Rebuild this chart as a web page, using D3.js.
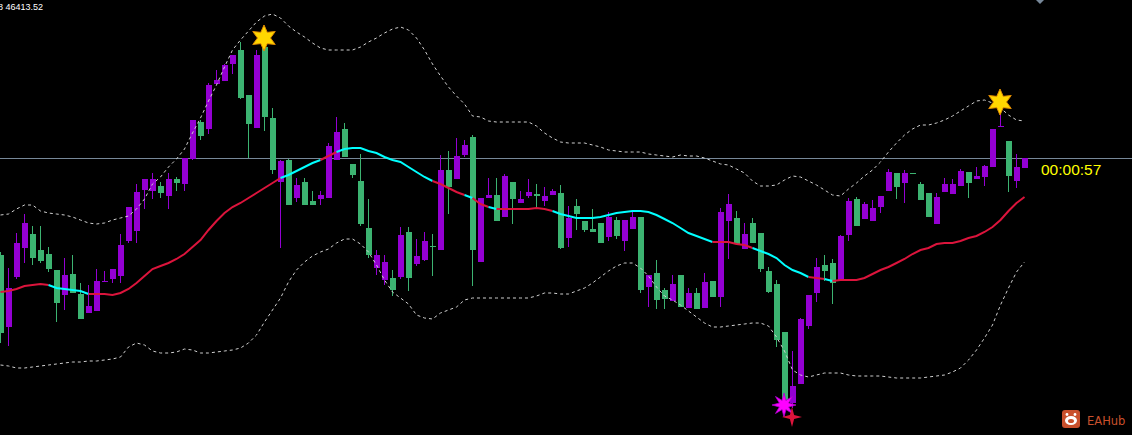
<!DOCTYPE html>
<html>
<head>
<meta charset="utf-8">
<script src="https://cdn.jsdelivr.net/npm/d3@7"></script>
<style>
  html, body { margin: 0; padding: 0; background: #000; overflow: hidden; }
  svg { display: block; }
</style>
</head>
<body>
<svg id="chart" width="1132" height="435"></svg>
<script>
// candles (bar 0 at the left edge)
var open = [
  46745,46673,46723,46752,46766,46750,46746,46730,46705,46726,
  46706,46687,46689,46718,46721,46724,46759,46769,46810,46809,
  46814,46804,46821,46816,46841,46878,46871,46916,46919,46936,
  46950,46905,46872,46953,46882,46818,46840,46802,46818,46799,
  46801,46802,46840,46871,46836,46819,46772,46732,46720,46722,
  46723,46768,46736,46740,46754,46750,46830,46821,46845,46863,
  46738,46802,46805,46783,46818,46797,46804,46806,46799,46805,
  46807,46762,46794,46779,46771,46777,46763,46780,46759,46771,
  46783,46713,46727,46710,46699,46725,46692,46707,46692,46719,
  46703,46779,46782,46751,46777,46767,46729,46716,46668,46597,
  46616,46674,46707,46735,46737,46720,46765,46801,46781,46779,
  46793,46809,46827,46817,46827,46816,46807,46776,46808,46806,
  46814,46828,46821,46823,46833,46873,46859,46819,46832
];
var high = [
  46748,46732,46767,46786,46774,46774,46753,46730,46742,46745,
  46717,46715,46731,46729,46731,46766,46793,46816,46821,46827,
  46818,46827,46823,46842,46880,46880,46917,46930,46936,46945,
  46958,46905,46950,46960,46892,46840,46841,46822,46822,46809,
  46809,46857,46883,46877,46836,46846,46801,46750,46745,46730,
  46773,46773,46761,46768,46766,46845,46849,46862,46860,46865,
  46802,46822,46822,46826,46818,46809,46821,46816,46813,46811,
  46815,46794,46801,46779,46791,46777,46788,46783,46780,46788,
  46783,46725,46740,46712,46725,46725,46712,46712,46727,46719,
  46792,46806,46789,46777,46782,46767,46733,46720,46668,46649,
  46682,46705,46742,46745,46741,46765,46802,46803,46798,46800,
  46804,46831,46827,46830,46827,46818,46807,46807,46822,46821,
  46831,46828,46833,46835,46871,46897,46859,46846,46842
];
var low = [
  46657,46654,46721,46737,46735,46737,46728,46678,46690,46707,
  46681,46687,46689,46718,46717,46717,46757,46757,46791,46801,
  46802,46791,46809,46809,46840,46860,46866,46916,46919,46926,
  46901,46842,46872,46869,46826,46752,46795,46798,46795,46795,
  46795,46802,46840,46843,46822,46774,46742,46725,46715,46704,
  46721,46709,46734,46739,46724,46750,46786,46821,46843,46714,
  46738,46802,46779,46783,46776,46797,46802,46793,46794,46805,
  46751,46753,46770,46768,46768,46757,46759,46761,46749,46771,
  46707,46693,46691,46691,46699,46693,46692,46691,46692,46703,
  46693,46741,46756,46751,46757,46728,46707,46653,46595,46592,
  46616,46671,46698,46719,46696,46720,46759,46774,46781,46779,
  46787,46809,46801,46797,46826,46800,46783,46776,46808,46806,
  46814,46802,46821,46814,46833,46873,46808,46812,46832
];
var close = [
  46667,46712,46757,46777,46742,46739,46731,46697,46725,46707,
  46681,46694,46719,46719,46731,46755,46793,46808,46821,46821,
  46807,46821,46817,46842,46880,46864,46915,46920,46935,46945,
  46902,46876,46945,46883,46830,46839,46795,46815,46795,46795,
  46805,46854,46868,46843,46825,46776,46745,46745,46738,46710,
  46765,46722,46744,46759,46753,46830,46813,46844,46855,46750,
  46802,46805,46779,46824,46801,46801,46808,46804,46804,46809,
  46752,46782,46786,46770,46768,46757,46783,46764,46780,46783,
  46710,46725,46700,46701,46716,46693,46707,46691,46718,46703,
  46788,46796,46756,46766,46757,46731,46708,46660,46600,46614,
  46681,46705,46733,46729,46717,46764,46799,46774,46796,46792,
  46804,46828,46813,46827,46826,46800,46783,46803,46816,46816,
  46829,46817,46824,46834,46871,46874,46824,46833,46842
];

// moving average, and the bars where it is drawn cyan
var ma = [
  46708,46709,46711,46714,46715,46716,46715,46712,46711,46710,
  46709,46706,46706,46706,46705,46707,46711,46717,46724,46731,
  46734,46737,46741,46746,46753,46760,46770,46779,46787,46793,
  46797,46802,46807,46812,46817,46822,46825,46829,46833,46837,
  46840,46844,46848,46851,46852,46852,46849,46847,46843,46840,
  46838,46833,46828,46823,46819,46816,46812,46808,46805,46802,
  46796,46793,46791,46791,46791,46791,46791,46792,46791,46789,
  46786,46784,46782,46782,46782,46783,46785,46787,46788,46789,
  46789,46788,46785,46781,46777,46772,46767,46764,46761,46758,
  46758,46758,46756,46755,46752,46749,46746,46742,46735,46730,
  46727,46723,46722,46721,46719,46720,46720,46720,46722,46726,
  46730,46733,46737,46741,46746,46750,46752,46756,46757,46757,
  46759,46762,46764,46768,46773,46780,46789,46797,46803
];
var cyanBars = [[6, 10], [35, 39], [42, 53], [58, 58], [61, 61], [69, 88], [94, 100], [103, 103]];

// bands
var upperBand = [
  46785,46786,46791,46795,46795,46789,46787,46786,46785,46783,
  46780,46777,46776,46777,46780,46782,46784,46791,46801,46816,
  46823,46833,46841,46851,46867,46882,46899,46915,46933,46950,
  46960,46969,46978,46984,46986,46982,46974,46968,46963,46957,
  46952,46950,46950,46950,46950,46953,46958,46962,46967,46971,
  46973,46970,46962,46950,46936,46924,46913,46904,46896,46884,
  46883,46879,46878,46878,46878,46878,46878,46874,46867,46862,
  46858,46857,46857,46857,46855,46853,46850,46849,46848,46848,
  46848,46846,46845,46844,46843,46845,46844,46844,46842,46839,
  46836,46835,46831,46827,46819,46814,46814,46815,46820,46824,
  46823,46819,46815,46810,46805,46804,46811,46817,46824,46830,
  46838,46848,46857,46865,46871,46875,46875,46877,46880,46884,
  46889,46894,46899,46900,46897,46892,46885,46880,46879
];
var lowerBand = [
  46635,46634,46632,46632,46633,46634,46635,46636,46637,46638,
  46638,46639,46639,46640,46641,46643,46653,46657,46655,46649,
  46647,46647,46648,46651,46650,46647,46647,46648,46649,46650,
  46652,46657,46665,46678,46690,46702,46718,46730,46738,46744,
  46748,46751,46757,46761,46761,46756,46748,46735,46720,46708,
  46702,46696,46685,46682,46681,46687,46690,46693,46700,46702,
  46702,46702,46702,46702,46702,46702,46702,46704,46707,46707,
  46706,46706,46709,46712,46717,46723,46729,46734,46737,46737,
  46732,46724,46713,46704,46700,46695,46689,46683,46677,46673,
  46673,46674,46675,46676,46677,46677,46674,46663,46649,46630,
  46625,46623,46625,46627,46627,46627,46625,46624,46624,46624,
  46624,46623,46622,46622,46622,46622,46623,46624,46625,46628,
  46632,46640,46650,46662,46675,46695,46712,46728,46738
];

// arrows / signals
var topStars = [{ bar: 33, price: 46962 }, { bar: 125, price: 46898 }];
var bottomStars = [{ bar: 98, price: 46595 }];
var crossStars = [{ bar: 99, price: 46583 }];

var bidPrice = 46842;
var priceLabel = "8 46413.52";
var timerLabel = "00:00:57";

var bullColor = "#9400d3";
var bearColor = "#3cb371";

var svg = d3.select("#chart");
var width = 1132, height = 435;

svg.append("rect").attr("width", width).attr("height", height).attr("fill", "#000");

var x = d3.scaleLinear().domain([0, 128]).range([0, 1024]);
var y = d3.scaleLinear().domain([46565, 47000]).range([height, 0]);

var n = close.length;
var bars = d3.range(n).map(function (i) {
  return { i: i, o: open[i], h: high[i], l: low[i], c: close[i] };
});

// bid line
svg.append("line")
  .attr("x1", 0).attr("x2", width)
  .attr("y1", Math.round(y(bidPrice)) + 0.5).attr("y2", Math.round(y(bidPrice)) + 0.5)
  .attr("stroke", "#778899").attr("stroke-width", 1);

// candles
var candles = svg.append("g").attr("shape-rendering", "crispEdges");
candles.selectAll("rect.wick").data(bars).join("rect")
  .attr("class", "wick")
  .attr("x", function (d) { return Math.round(x(d.i)); })
  .attr("y", function (d) { return Math.round(y(d.h)); })
  .attr("width", 1)
  .attr("height", function (d) { return Math.max(1, Math.round(y(d.l)) - Math.round(y(d.h))); })
  .attr("fill", function (d) { return d.c >= d.o ? bullColor : bearColor; });

candles.selectAll("rect.body").data(bars).join("rect")
  .attr("class", "body")
  .attr("x", function (d) { return Math.round(x(d.i)) - 2; })
  .attr("y", function (d) { return Math.round(y(Math.max(d.o, d.c))); })
  .attr("width", 6)
  .attr("height", function (d) {
    return Math.max(1, Math.round(y(Math.min(d.o, d.c))) - Math.round(y(Math.max(d.o, d.c))));
  })
  .attr("fill", function (d) { return d.c >= d.o ? bullColor : bearColor; });

// bands
var bandLine = d3.line()
  .x(function (d, i) { return x(i) + 0.5; })
  .y(function (d) { return y(d); });

[upperBand, lowerBand].forEach(function (band) {
  svg.append("path")
    .attr("d", bandLine(band))
    .attr("fill", "none")
    .attr("stroke", "#d0d0d0")
    .attr("stroke-width", 1)
    .attr("stroke-dasharray", "3,3");
});

// moving average, split into red / cyan runs
function isCyan(i) {
  return cyanBars.some(function (r) { return i >= r[0] && i <= r[1]; });
}
var runs = [];
for (var i = 0; i < n - 1; i++) {
  var col = isCyan(i) ? "#00ffff" : "#dc143c";
  if (!runs.length || runs[runs.length - 1].color !== col) {
    runs.push({ color: col, idx: [i] });
  }
  runs[runs.length - 1].idx.push(i + 1);
}
var maLine = d3.line()
  .x(function (i) { return x(i) + 0.5; })
  .y(function (i) { return y(ma[i]); });
svg.append("g").selectAll("path").data(runs).join("path")
  .attr("d", function (r) { return maLine(r.idx); })
  .attr("fill", "none")
  .attr("stroke", function (r) { return r.color; })
  .attr("stroke-width", 2);

// stars
function starPath(points, rOut, rIn, rot) {
  var pts = [];
  for (var k = 0; k < points * 2; k++) {
    var a = k * Math.PI / points - Math.PI / 2 + (rot || 0);
    var r = k % 2 ? rIn : rOut;
    pts.push([r * Math.cos(a), r * Math.sin(a)]);
  }
  return "M" + pts.join("L") + "Z";
}

svg.append("g").selectAll("path").data(topStars).join("path")
  .attr("transform", function (d) { return "translate(" + (x(d.bar)) + "," + y(d.price) + ")"; })
  .attr("d", starPath(6, 13, 6.5))
  .attr("fill", "#ffd700")
  .attr("stroke", "#e08a00")
  .attr("stroke-width", 1);

svg.append("g").selectAll("path").data(bottomStars).join("path")
  .attr("transform", function (d) { return "translate(" + (x(d.bar)) + "," + y(d.price) + ")"; })
  .attr("d", starPath(8, 12, 5))
  .attr("fill", "#ff00ff")
  .attr("stroke", "#b000d0")
  .attr("stroke-width", 0.8);

svg.append("g").selectAll("path").data(crossStars).join("path")
  .attr("transform", function (d) { return "translate(" + (x(d.bar)) + "," + y(d.price) + ")"; })
  .attr("d", starPath(4, 10, 3))
  .attr("fill", "#dc143c");

// texts
svg.append("text")
  .attr("x", -2).attr("y", 10)
  .attr("fill", "#ffffff")
  .attr("font-family", "Liberation Sans, Arial, sans-serif")
  .attr("font-size", 9)
  .text(priceLabel);

svg.append("text")
  .attr("x", 1041).attr("y", Math.round(y(bidPrice)) + 17)
  .attr("fill", "#ffff00")
  .attr("font-family", "Liberation Sans, Arial, sans-serif")
  .attr("font-size", 15.5)
  .text(timerLabel);

// small marker at the top
svg.append("path")
  .attr("d", "M1036,0L1044,0L1040,4Z")
  .attr("fill", "#778899");

// watermark
var logo = svg.append("g").attr("transform", "translate(1062,410)");
logo.append("rect").attr("width", 18).attr("height", 18).attr("rx", 3).attr("fill", "#c9502c");
logo.append("ellipse").attr("cx", 9).attr("cy", 10.5).attr("rx", 6).attr("ry", 4.5).attr("fill", "#fff");
logo.append("circle").attr("cx", 5).attr("cy", 4.5).attr("r", 1.4).attr("fill", "#fff");
logo.append("circle").attr("cx", 13).attr("cy", 4.5).attr("r", 1.4).attr("fill", "#fff");
logo.append("ellipse").attr("cx", 9).attr("cy", 11).attr("rx", 3).attr("ry", 2).attr("fill", "#c9502c");
svg.append("text")
  .attr("x", 1087).attr("y", 425)
  .attr("fill", "#c9502c")
  .attr("font-family", "DejaVu Sans, sans-serif")
  .attr("font-size", 11.5)
  .text("EAHub");
</script>
</body>
</html>
